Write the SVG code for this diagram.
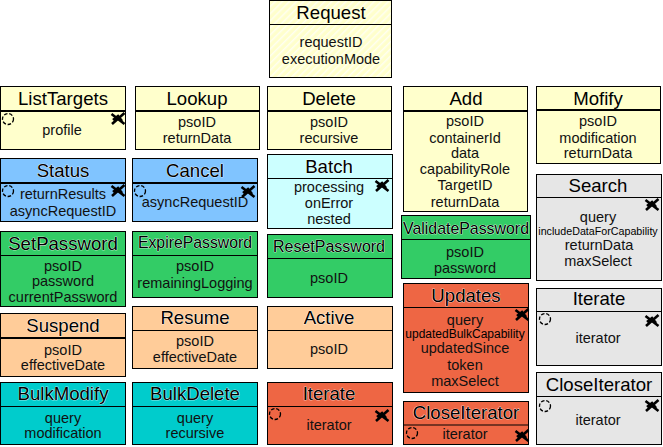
<svg xmlns="http://www.w3.org/2000/svg" width="663" height="447" viewBox="0 0 663 447">
<style>
.b{stroke:#000;stroke-width:1}
.d{stroke:#000;stroke-width:1}
.d2{stroke:#000;stroke-width:2}
text{font-family:"Liberation Sans",Arial,sans-serif;text-anchor:middle;fill:#000}
.t{font-size:18.600px}
.s{font-size:14.500px;fill:#111}
.y{fill:#ffffcc}.u{fill:#80c4ff}.c{fill:#ccffff}.g{fill:#33cc66}.o{fill:#ffcc99}.q{fill:#00cccc}.r{fill:#ee6644}.e{fill:#e6e6e6}
.w{paint-order:stroke;stroke:#fff;stroke-width:.7px}
</style>
<defs>
<pattern id="h" width="5" height="5" patternUnits="userSpaceOnUse" patternTransform="rotate(-45)"><rect width="5" height="5" fill="#ffffcc"/><rect width="5" height="1.500" fill="#fffff0"/></pattern>
<g id="loop"><circle cx="7" cy="7" r="5.500" fill="none" stroke="#000" stroke-width="1.300" stroke-dasharray="3.500 1.800"/></g>
<g id="x"><path d="M0.500 2 L13.500 12 M1 12 L13.500 1 M2 8 L7 4 L11 9" fill="none" stroke="#000" stroke-width="2.600"/></g>
</defs>
<g id="connectors"></g>
<g id="Request"><rect class="b" fill="url(#h)" x="269.500" y="0.500" width="122" height="77"/><line class="d" x1="270" x2="391" y1="24.500" y2="24.500"/><text class="t" x="331" y="19">Request</text><text class="s" x="331" y="47">requestID</text><text class="s" x="331" y="64">executionMode</text></g>
<g id="ListTargets"><rect class="b y" x="0.500" y="86.500" width="125" height="63"/><line class="d2" x1="1" x2="125" y1="111" y2="111"/><text class="t" x="63" y="105">ListTargets</text><text class="s" x="62" y="135">profile</text><use href="#loop" x="1" y="112"/><use href="#x" x="111" y="112"/></g>
<g id="Lookup"><rect class="b y" x="135.500" y="86.500" width="124" height="63"/><line class="d2" x1="136" x2="259" y1="111" y2="111"/><text class="t" x="197" y="105">Lookup</text><text class="s" x="197" y="127">psoID</text><text class="s" x="197" y="143">returnData</text></g>
<g id="Delete"><rect class="b y" x="267.500" y="86.500" width="124" height="63"/><line class="d2" x1="268" x2="391" y1="111" y2="111"/><text class="t" x="329" y="105">Delete</text><text class="s" x="329" y="127">psoID</text><text class="s" x="329" y="143">recursive</text></g>
<g id="Add"><rect class="b y" x="403.500" y="86.500" width="124" height="125"/><line class="d2" x1="404" x2="527" y1="111" y2="111"/><text class="t" x="466" y="105">Add</text><text class="s" x="465" y="126">psoID</text><text class="s" x="465" y="143">containerId</text><text class="s" x="465" y="158">data</text><text class="s" x="465" y="174">capabilityRole</text><text class="s" x="465" y="190">TargetID</text><text class="s" x="465" y="207">returnData</text></g>
<g id="Mofify"><rect class="b y" x="536.500" y="86.500" width="124" height="77"/><line class="d2" x1="537" x2="660" y1="110" y2="110"/><text class="t" x="598" y="105">Mofify</text><text class="s" x="598" y="126">psoID</text><text class="s" x="598" y="143">modification</text><text class="s" x="598" y="158">returnData</text></g>
<g id="Status"><rect class="b u" x="0.500" y="158.500" width="125" height="63"/><line class="d2" x1="1" x2="125" y1="183" y2="183"/><text class="t w" x="63" y="177">Status</text><text class="s" x="63" y="199">returnResults</text><text class="s" x="63" y="216">asyncRequestID</text><use href="#loop" x="1" y="184"/><use href="#x" x="111" y="184"/></g>
<g id="Cancel"><rect class="b u" x="132.500" y="158.500" width="125" height="63"/><line class="d2" x1="133" x2="257" y1="183" y2="183"/><text class="t w" x="195" y="177">Cancel</text><text class="s" x="195" y="207">asyncRequestID</text><use href="#loop" x="133" y="184"/><use href="#x" x="241" y="185"/></g>
<g id="Batch"><rect class="b c" x="267.500" y="154.500" width="125" height="74"/><line class="d" x1="268" x2="392" y1="178.500" y2="178.500"/><text class="t w" x="329" y="173">Batch</text><text class="s" x="329" y="192">processing</text><text class="s" x="329" y="208">onError</text><text class="s" x="329" y="224">nested</text><use href="#x" x="375" y="179"/></g>
<g id="Search"><rect class="b e" x="536.500" y="174.500" width="125" height="106"/><line class="d" x1="537" x2="661" y1="197.500" y2="197.500"/><text class="t" x="598" y="192">Search</text><text class="s" x="598" y="222">query</text><text x="598" y="235" style="font-size:10.700px">includeDataForCapability</text><text class="s" x="599" y="250">returnData</text><text class="s" x="598" y="266">maxSelect</text><use href="#x" x="645" y="198"/></g>
<g id="ValidatePassword"><rect class="b g" x="401.500" y="215.500" width="129" height="63"/><line class="d" x1="402" x2="530" y1="239.500" y2="239.500"/><text class="w" style="font-size:15.900px" x="466" y="234">ValidatePassword</text><text class="s" x="465" y="257">psoID</text><text class="s" x="465" y="273">password</text></g>
<g id="SetPassword"><rect class="b g" x="0.500" y="231.500" width="125" height="75"/><line class="d" x1="1" x2="125" y1="255.500" y2="255.500"/><text class="t w" x="63" y="250">SetPassword</text><text class="s" x="63" y="271">psoID</text><text class="s" x="63" y="286">password</text><text class="s" x="63" y="302">currentPassword</text></g>
<g id="ExpirePassword"><rect class="b g" x="132.500" y="231.500" width="125" height="66"/><line class="d" x1="133" x2="257" y1="255.500" y2="255.500"/><text class="w" style="font-size:15.800px" x="195" y="248">ExpirePassword</text><text class="s" x="195" y="271">psoID</text><text class="s" x="195" y="288">remainingLogging</text></g>
<g id="ResetPassword"><rect class="b g" x="267.500" y="234.500" width="125" height="63"/><line class="d" x1="268" x2="392" y1="258.500" y2="258.500"/><text class="w" style="font-size:16px" x="329" y="252">ResetPassword</text><text class="s" x="329" y="283">psoID</text></g>
<g id="Updates"><rect class="b r" x="403.500" y="283.500" width="125" height="109"/><line class="d" x1="404" x2="528" y1="307.500" y2="307.500"/><text class="t w" x="466" y="302">Updates</text><text class="s" x="465" y="325">query</text><text x="465" y="338" style="font-size:12px">updatedBulkCapability</text><text class="s" x="465" y="353">updatedSince</text><text class="s" x="465" y="370">token</text><text class="s" x="465" y="386">maxSelect</text><use href="#x" x="515" y="308"/></g>
<g id="IterateGray"><rect class="b e" x="536.500" y="288.500" width="125" height="77"/><line class="d" x1="537" x2="661" y1="311.500" y2="311.500"/><text class="t" x="599" y="305">Iterate</text><text class="s" x="598" y="343">iterator</text><use href="#loop" x="538" y="312"/><use href="#x" x="645" y="314"/></g>
<g id="Suspend"><rect class="b o" x="0.500" y="313.500" width="125" height="63"/><line class="d2" x1="1" x2="125" y1="338" y2="338"/><text class="t w" x="63" y="332">Suspend</text><text class="s" x="63" y="355">psoID</text><text class="s" x="63" y="370">effectiveDate</text></g>
<g id="Resume"><rect class="b o" x="132.500" y="306.500" width="125" height="62"/><line class="d" x1="133" x2="257" y1="330.500" y2="330.500"/><text class="t w" x="195" y="324">Resume</text><text class="s" x="195" y="346">psoID</text><text class="s" x="195" y="362">effectiveDate</text></g>
<g id="Active"><rect class="b o" x="267.500" y="306.500" width="125" height="62"/><line class="d" x1="268" x2="392" y1="330.500" y2="330.500"/><text class="t w" x="329" y="324">Active</text><text class="s" x="329" y="354">psoID</text></g>
<g id="BulkModify"><rect class="b q" x="0.500" y="382.500" width="125" height="62"/><line class="d" x1="1" x2="125" y1="406.500" y2="406.500"/><text class="t w" x="63" y="400">BulkModify</text><text class="s" x="63" y="423">query</text><text class="s" x="63" y="438">modification</text></g>
<g id="BulkDelete"><rect class="b q" x="132.500" y="382.500" width="125" height="62"/><line class="d" x1="133" x2="257" y1="406.500" y2="406.500"/><text class="t w" x="195" y="400">BulkDelete</text><text class="s" x="195" y="423">query</text><text class="s" x="195" y="438">recursive</text></g>
<g id="IterateOrange"><rect class="b r" x="267.500" y="382.500" width="125" height="62"/><line class="d" x1="268" x2="392" y1="406.500" y2="406.500"/><text class="t w" x="329" y="400">Iterate</text><text class="s" x="329" y="430">iterator</text><use href="#loop" x="268" y="407"/><use href="#x" x="375" y="409"/></g>
<g id="CloseIteratorOrange"><rect class="b r" x="403.500" y="401.500" width="125" height="43"/><line class="d" x1="404" x2="528" y1="425" y2="425"/><text class="t w" x="466" y="419">CloseIterator</text><text class="s" x="465" y="439">iterator</text><use href="#loop" x="405" y="426"/><use href="#x" x="515" y="429"/></g>
<g id="CloseIteratorGray"><rect class="b e" x="536.500" y="372.500" width="125" height="72"/><line class="d" x1="537" x2="661" y1="396.500" y2="396.500"/><text class="t" x="599" y="391">CloseIterator</text><text class="s" x="598" y="425">iterator</text><use href="#loop" x="538" y="399"/><use href="#x" x="645" y="399"/></g>
</svg>
